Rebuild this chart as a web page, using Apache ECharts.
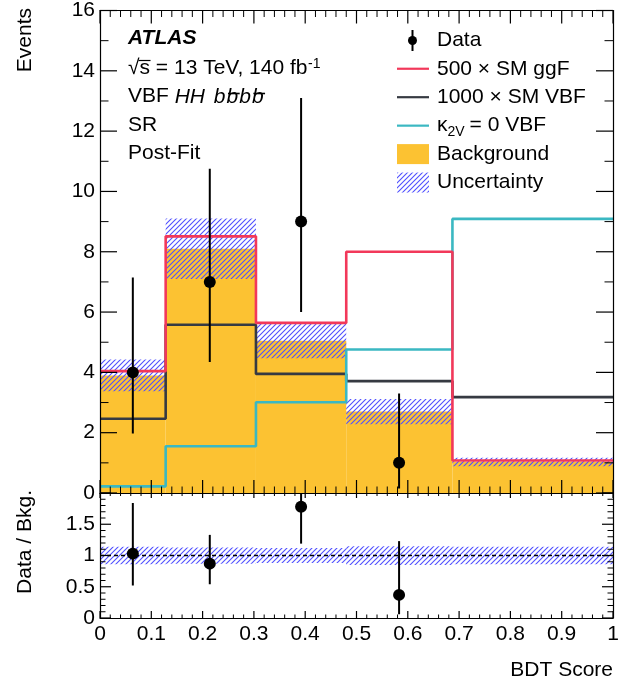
<!DOCTYPE html>
<html><head><meta charset="utf-8">
<script src="https://cdn.jsdelivr.net/npm/echarts/dist/echarts.min.js"></script>
<style>html,body{margin:0;padding:0;background:#fff}#c{width:643px;height:685px}</style>
</head><body><div id="c"></div>
<script>
// ---------------- data ----------------
const binEdges       = [0, 0.128, 0.304, 0.480, 0.687, 1.0];
const background     = [3.90, 8.10, 5.05, 2.70, 1.03];
const bkgUncertainty = [0.53, 1.00, 0.58, 0.42, 0.14];
const ggF500         = [4.04, 8.51, 5.64, 8.00, 1.08];
const vbf1000        = [2.46, 5.58, 3.95, 3.71, 3.18];
const kappa2V0       = [0.22, 1.55, 3.01, 4.76, 9.09];
const dataX          = [0.064, 0.214, 0.392, 0.583];
const dataY          = [4, 7, 9, 1];
const dataLow        = [1.97, 4.34, 6.00, 0.15];
const dataHigh       = [7.15, 10.75, 13.10, 3.30];
const ratioY         = [1.03, 0.87, 1.78, 0.37];
const ratioLow       = [0.52, 0.54, 1.19, 0.06];
const ratioHigh      = [1.84, 1.33, 2.60, 1.23];
const ratioUnc       = [0.14, 0.13, 0.12, 0.15, 0.14];
// tick labels
const xTickValues      = [0, 0.1, 0.2, 0.3, 0.4, 0.5, 0.6, 0.7, 0.8, 0.9, 1];
const mainYTickValues  = [0, 2, 4, 6, 8, 10, 12, 14, 16];
const ratioYTickValues = [0, 0.5, 1, 1.5, 2];
const legendLabels   = ['Data', '500 \u00d7 SM ggF', '1000 \u00d7 SM VBF', '= 0 VBF', 'Background', 'Uncertainty'];

// ---------------- styles ----------------
const FF = '"Liberation Sans", Arial, Helvetica, sans-serif';
const F = (s, st) => (st ? st + ' ' : '') + s + 'px ' + FF;
const C_BKG = '#fcc232', C_GGF = '#f2385a', C_VBF = '#363a42', C_K2V = '#3bb8c2';

function makeHatch() {
  const s = 5, c = document.createElement('canvas');
  c.width = s; c.height = s;
  const g = c.getContext('2d');
  g.strokeStyle = 'rgba(80,80,255,1)';
  g.lineWidth = 1.1;
  g.beginPath();
  g.moveTo(-1, s + 1); g.lineTo(s + 1, -1);
  g.moveTo(-1, 1); g.lineTo(1, -1);
  g.moveTo(s - 1, s + 1); g.lineTo(s + 1, s - 1);
  g.stroke();
  return c;
}
const hatch = { image: makeHatch(), repeat: 'repeat' };

const mctx = document.createElement('canvas').getContext('2d');
function tw(text, font) { mctx.font = font; return mctx.measureText(text).width; }

// ---------------- series helpers ----------------
function binRects(lo, hi) {
  return lo.map((_, i) => [binEdges[i], binEdges[i + 1], lo[i], hi[i]]);
}
function rectSeries(xi, yi, data, fill, z) {
  return {
    type: 'custom', xAxisIndex: xi, yAxisIndex: yi, z: z, data: data,
    encode: { x: [0, 1], y: [2, 3] },
    renderItem: (p, api) => {
      const a = api.coord([api.value(0), api.value(3)]);
      const b = api.coord([api.value(1), api.value(2)]);
      return { type: 'rect', shape: { x: a[0], y: a[1], width: b[0] - a[0], height: b[1] - a[1] },
               style: { fill: fill } };
    }
  };
}
function stepSeries(vals, color) {
  const d = vals.map((v, i) => [binEdges[i], v]);
  d.push([binEdges[binEdges.length - 1], vals[vals.length - 1]]);
  return { type: 'line', xAxisIndex: 0, yAxisIndex: 0, z: 3, step: 'end', data: d,
           showSymbol: false, clip: false, lineStyle: { color: color, width: 2.6 } };
}
function errSeries(xi, yi, xs, lo, hi) {
  return {
    type: 'custom', xAxisIndex: xi, yAxisIndex: yi, z: 4, clip: true,
    data: xs.map((x, i) => [x, lo[i], hi[i]]),
    encode: { x: 0, y: [1, 2] },
    renderItem: (p, api) => {
      const a = api.coord([api.value(0), api.value(1)]);
      const b = api.coord([api.value(0), api.value(2)]);
      return { type: 'line', shape: { x1: a[0], y1: a[1], x2: b[0], y2: b[1] },
               style: { stroke: '#000', lineWidth: 2 } };
    }
  };
}
function ptSeries(xi, yi, xs, ys) {
  return { type: 'scatter', xAxisIndex: xi, yAxisIndex: yi, z: 5, symbolSize: 12,
           itemStyle: { color: '#000', opacity: 1 }, data: xs.map((x, i) => [x, ys[i]]) };
}

// inward tick marks: anchor points on the axis (data space) -> short line in direction dir
function subdivide(majors, sub) {
  const minor = [];
  for (let i = 0; i < majors.length - 1; i++) {
    const step = (majors[i + 1] - majors[i]) / sub;
    for (let k = 1; k < sub; k++) minor.push(majors[i] + k * step);
  }
  return minor;
}
function tickSeries(xi, yi, pts, dir, len, w) {
  return {
    type: 'custom', xAxisIndex: xi, yAxisIndex: yi, z: 8, silent: true, clip: false,
    data: pts, encode: { x: 0, y: 1 },
    renderItem: (p, api) => {
      const a = api.coord([api.value(0), api.value(1)]);
      return { type: 'line',
               shape: { x1: a[0], y1: a[1], x2: a[0] + dir[0] * len, y2: a[1] + dir[1] * len },
               style: { stroke: '#000', lineWidth: w } };
    }
  };
}
function axisTicks(xi, yi, xMajors, xSub, yMajors, ySub, yMax, L) {
  const xMin = subdivide(xMajors, xSub), yMin = subdivide(yMajors, ySub);
  const out = [];
  // bottom
  out.push(tickSeries(xi, yi, xMajors.map(v => [v, 0]), [0, -1], L.xb[0], 1.2));
  out.push(tickSeries(xi, yi, xMin.map(v => [v, 0]), [0, -1], L.xb[1], 1));
  // top
  out.push(tickSeries(xi, yi, xMajors.map(v => [v, yMax]), [0, 1], L.xt[0], 1.2));
  out.push(tickSeries(xi, yi, xMin.map(v => [v, yMax]), [0, 1], L.xt[1], 1));
  // left
  out.push(tickSeries(xi, yi, yMajors.map(v => [0, v]), [1, 0], L.y[0], 1.2));
  out.push(tickSeries(xi, yi, yMin.map(v => [0, v]), [1, 0], L.y[1], 1));
  // right
  out.push(tickSeries(xi, yi, yMajors.map(v => [1, v]), [-1, 0], L.y[0], 1.2));
  out.push(tickSeries(xi, yi, yMin.map(v => [1, v]), [-1, 0], L.y[1], 1));
  return out;
}

function xAx(grid, pos, labels) {
  return {
    type: 'value', gridIndex: grid, position: pos, min: 0, max: 1, interval: 0.1, z: 10,
    axisLine: { show: true, onZero: false, lineStyle: { color: '#000', width: 1.2 } },
    splitLine: { show: false }, axisTick: { show: false }, minorTick: { show: false },
    axisLabel: { show: labels, margin: 6, fontSize: 21, fontFamily: FF, color: '#000' }
  };
}
function yAx(grid, pos, labels, max, interval, fmt) {
  const o = {
    type: 'value', gridIndex: grid, position: pos, min: 0, max: max, interval: interval, z: 10,
    axisLine: { show: true, onZero: false, lineStyle: { color: '#000', width: 1.2 } },
    splitLine: { show: false }, axisTick: { show: false }, minorTick: { show: false },
    axisLabel: { show: labels, margin: 5, fontSize: 21, fontFamily: FF, color: '#000' }
  };
  if (fmt) o.axisLabel.formatter = fmt;
  return o;
}

// ---------------- text / legend graphics ----------------
const G = [];
function T(text, x, y, font, o) {
  o = o || {};
  G.push({ type: 'text', x: x, y: y, rotation: o.rot || 0, z: 100, silent: true,
    style: { text: text, x: 0, y: 0, font: font, fill: '#000',
             align: o.align || 'left', verticalAlign: o.va || 'middle',
             textAlign: o.align || 'left', textVerticalAlign: o.va || 'middle' } });
}
function Ln(x1, y1, x2, y2, color, w) {
  G.push({ type: 'line', z: 100, silent: true, shape: { x1, y1, x2, y2 }, style: { stroke: color, lineWidth: w } });
}
T('Events', 25, 8, F(21), { rot: Math.PI / 2, align: 'right' });
T('Data / Bkg.', 25, 490, F(21), { rot: Math.PI / 2, align: 'right' });
T('BDT Score', 613, 670, F(21), { align: 'right' });

const tx = 128;
T('ATLAS', tx, 38.5, F(21, 'italic bold'));
const fR = F(21);
T('\u221a', tx, 68.5, fR);
const wRad = tw('\u221a', fR);
T('s', tx + wRad, 68.5, fR);
const wS = tw('s', fR);
Ln(tx + wRad - 1, 60.5, tx + wRad + wS + 0.5, 60.5, '#000', 1.2);
const rest = ' = 13 TeV, 140 fb';
T(rest, tx + wRad + wS, 68.5, fR);
T('-1', tx + wRad + wS + tw(rest, fR) + 0.5, 64, F(14));
const fI = F(21, 'italic');
let cx = tx;
T('VBF ', cx, 96.7, fR); cx += tw('VBF ', fR);
T('HH ', cx, 96.7, fI); cx += tw('HH ', fI) + 3;
const wb = tw('b', fI);
for (let k = 0; k < 4; k++) {
  T('b', cx, 96.7, fI);
  if (k % 2 === 1) Ln(cx + 1.5, 93.5, cx + wb + 1.5, 93.5, '#000', 1.6);
  cx += wb + 1;
}
T('SR', tx, 125, fR);
T('Post-Fit', tx, 153.5, fR);

const lx0 = 397, lx1 = 429, ltx = 437;
const rowY = [40.3, 68.75, 97.2, 125.65, 154.1, 182.55];
Ln(412.5, 30, 412.5, 51, '#000', 2);
G.push({ type: 'circle', z: 100, silent: true, shape: { cx: 412.5, cy: 40.5, r: 4.5 }, style: { fill: '#000' } });
T(legendLabels[0], ltx, rowY[0], F(21));
Ln(lx0, rowY[1], lx1, rowY[1], C_GGF, 2.2); T(legendLabels[1], ltx, rowY[1], F(21));
Ln(lx0, rowY[2], lx1, rowY[2], C_VBF, 2.2); T(legendLabels[2], ltx, rowY[2], F(21));
Ln(lx0, rowY[3], lx1, rowY[3], C_K2V, 2.2);
T('\u03ba', ltx, rowY[3], F(21));
const wk = tw('\u03ba', F(21));
T('2V', ltx + wk, rowY[3] + 6, F(14));
T(legendLabels[3], ltx + wk + tw('2V', F(14)) + 5, rowY[3], F(21));
G.push({ type: 'rect', z: 100, silent: true, shape: { x: lx0, y: rowY[4] - 10, width: lx1 - lx0, height: 20 }, style: { fill: C_BKG } });
T(legendLabels[4], ltx, rowY[4], F(21));
G.push({ type: 'rect', z: 100, silent: true, shape: { x: lx0, y: rowY[5] - 10, width: lx1 - lx0, height: 20 }, style: { fill: hatch } });
T(legendLabels[5], ltx, rowY[5], F(21));

// ---------------- chart ----------------
const chart = echarts.init(document.getElementById('c'), null, { renderer: 'canvas' });
const mainYMax = mainYTickValues[mainYTickValues.length - 1];
const ratioYMax = ratioYTickValues[ratioYTickValues.length - 1];
chart.setOption({
  animation: false,
  grid: [
    { left: 100, top: 9, width: 513, height: 484 },
    { left: 100, top: 493, width: 513, height: 125 }
  ],
  xAxis: [xAx(0, 'bottom', false), xAx(0, 'top', false), xAx(1, 'bottom', true), xAx(1, 'top', false)],
  yAxis: [
    yAx(0, 'left', true, mainYMax, 2),
    yAx(0, 'right', false, mainYMax, 2),
    yAx(1, 'left', true, ratioYMax, 0.5, v => (v >= ratioYMax ? '' : String(v))),
    yAx(1, 'right', false, ratioYMax, 0.5)
  ],
  graphic: { elements: G },
  series: [
    rectSeries(0, 0, binRects(background.map(() => 0), background), C_BKG, 1),
    rectSeries(0, 0, binRects(background.map((b, i) => b - bkgUncertainty[i]),
                              background.map((b, i) => b + bkgUncertainty[i])), hatch, 2),
    stepSeries(vbf1000, C_VBF),
    stepSeries(kappa2V0, C_K2V),
    stepSeries(ggF500, C_GGF),
    errSeries(0, 0, dataX, dataLow, dataHigh),
    ptSeries(0, 0, dataX, dataY),
    rectSeries(2, 2, binRects(ratioUnc.map(u => 1 - u), ratioUnc.map(u => 1 + u)), hatch, 1),
    { type: 'line', xAxisIndex: 2, yAxisIndex: 2, z: 2, showSymbol: false, data: [[0, 1], [1, 1]],
      lineStyle: { color: '#000', width: 1.3, type: [4, 3] } },
    errSeries(2, 2, dataX, ratioLow, ratioHigh),
    ptSeries(2, 2, dataX, ratioY)
  ].concat(
    axisTicks(0, 0, xTickValues, 5, mainYTickValues, 2, mainYMax, { xb: [13, 6.5], xt: [13, 6.5], y: [17, 8.5] }),
    axisTicks(2, 2, xTickValues, 5, ratioYTickValues, 5, ratioYMax, { xb: [7, 3.5], xt: [5, 3], y: [11, 5.5] })
  )
});
</script>
</body></html>
